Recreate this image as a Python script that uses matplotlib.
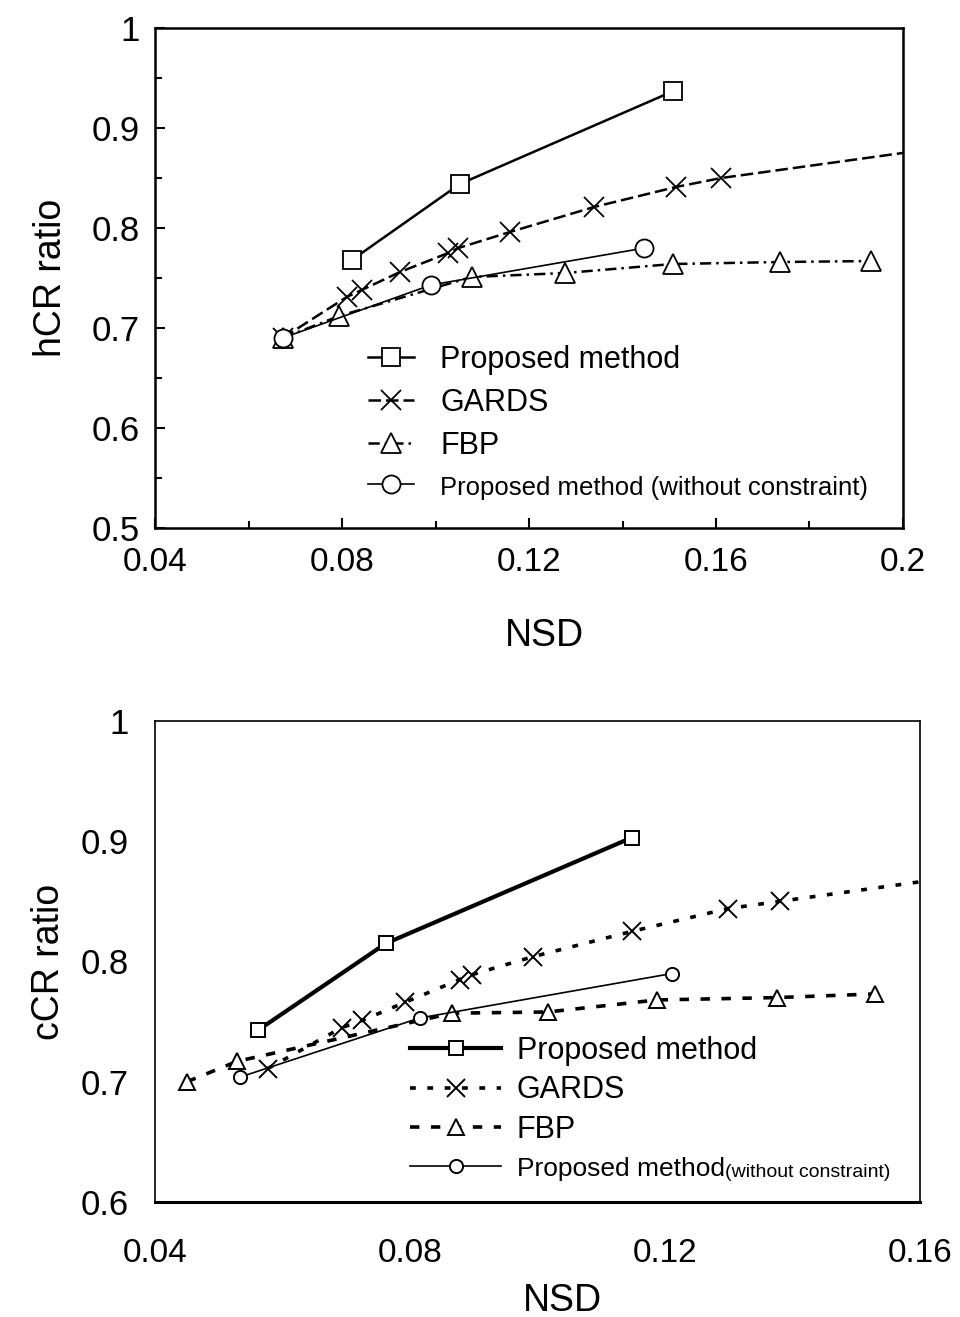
import matplotlib
matplotlib.use("Agg")
import matplotlib.pyplot as plt
from matplotlib.ticker import MultipleLocator, FuncFormatter

plt.rcParams["font.family"] = ["Liberation Sans", "DejaVu Sans"]

# ---- hCR ratio vs NSD ----
top_prop_x = [0.0821, 0.1052, 0.1509]
top_prop_y = [0.768, 0.844, 0.937]
top_gards_x = [0.0673, 0.0810, 0.0842, 0.0924, 0.1027, 0.1049, 0.1159, 0.1339, 0.1514, 0.1611, 0.22]
top_gards_y = [0.690, 0.731, 0.738, 0.756, 0.775, 0.780, 0.796, 0.821, 0.841, 0.850, 0.888]
top_fbp_x = [0.0673, 0.0794, 0.1077, 0.1277, 0.1507, 0.1737, 0.1931]
top_fbp_y = [0.690, 0.712, 0.751, 0.755, 0.764, 0.766, 0.767]
top_noc_x = [0.0673, 0.0990, 0.1447]
top_noc_y = [0.690, 0.743, 0.780]

# ---- cCR ratio vs NSD ----
bot_prop_x = [0.0562, 0.0762, 0.1148]
bot_prop_y = [0.743, 0.815, 0.903]
bot_gards_x = [0.0577, 0.0693, 0.0725, 0.0792, 0.0878, 0.0897, 0.0993, 0.1148, 0.1299, 0.1380, 0.18]
bot_gards_y = [0.711, 0.745, 0.751, 0.766, 0.785, 0.789, 0.804, 0.825, 0.844, 0.850, 0.881]
bot_fbp_x = [0.0450, 0.0529, 0.0866, 0.1016, 0.1187, 0.1376, 0.1529]
bot_fbp_y = [0.700, 0.717, 0.757, 0.758, 0.768, 0.770, 0.773]
bot_noc_x = [0.0534, 0.0815, 0.1211]
bot_noc_y = [0.704, 0.753, 0.790]

labels = ["Proposed method", "GARDS", "FBP", "Proposed method (without constraint)"]

fmt = FuncFormatter(lambda v, p: "%g" % round(v, 4))

fig = plt.figure(figsize=(9.6, 13.17), dpi=100)

# ================= upper panel =================
ax1 = fig.add_axes([0.1615, 0.5991, 0.9406 - 0.1615, 0.9787 - 0.5991])
mk = dict(markerfacecolor="white", markeredgecolor="black", markeredgewidth=1.3, color="black")
ax1.plot(top_prop_x, top_prop_y, marker="s", markersize=13, linewidth=1.8, linestyle="-", label=labels[0], **mk)
ax1.plot(top_gards_x, top_gards_y, marker="x", markersize=15, linewidth=1.8, dashes=(5, 2), label=labels[1], **mk)
ax1.plot(top_fbp_x, top_fbp_y, marker="^", markersize=14, linewidth=1.8, dashes=(4.5, 2, 1, 2), label=labels[2], **mk)
ax1.plot(top_noc_x, top_noc_y, marker="o", markersize=13, linewidth=1.2, linestyle="-", label=labels[3], **mk)

ax1.set_xlim(0.04, 0.2)
ax1.set_ylim(0.5, 1.0)
ax1.xaxis.set_major_locator(MultipleLocator(0.04))
ax1.xaxis.set_minor_locator(MultipleLocator(0.02))
ax1.yaxis.set_major_locator(MultipleLocator(0.1))
ax1.yaxis.set_minor_locator(MultipleLocator(0.05))
ax1.xaxis.set_major_formatter(fmt)
ax1.yaxis.set_major_formatter(fmt)
ax1.tick_params(which="both", direction="in", width=1.5, labelsize=24)
ax1.tick_params(axis="y", labelsize=25)
ax1.tick_params(which="major", length=7)
ax1.tick_params(which="minor", length=5)
ax1.tick_params(axis="x", pad=14)
ax1.tick_params(axis="y", pad=11)
for s in ax1.spines.values():
    s.set_linewidth(1.8)
ax1.set_xlabel("NSD", fontsize=27)
ax1.xaxis.set_label_coords(0.521, -0.18)
ax1.set_ylabel("hCR ratio", fontsize=27, labelpad=16)

leg1 = ax1.legend(loc="upper left", bbox_to_anchor=(0.285, 0.366), frameon=False, fontsize=22,
                  handlelength=1.5, handletextpad=0.86, labelspacing=0.42, borderpad=0, borderaxespad=0)
leg1.get_texts()[3].set_fontsize(18.5)

# ================= lower panel =================
ax2 = fig.add_axes([0.1615, 0.0873, 0.9583 - 0.1615, 0.4526 - 0.0873])
mk2 = dict(markerfacecolor="white", markeredgecolor="black", markeredgewidth=1.4, color="black")
ax2.plot(bot_prop_x, bot_prop_y, marker="s", markersize=10.5, linewidth=3.0, linestyle="-", label=labels[0], **mk2)
ax2.plot(bot_gards_x, bot_gards_y, marker="x", markersize=13, linewidth=2.6, dashes=(1.6, 3.2), label=labels[1], **mk2)
ax2.plot(bot_fbp_x, bot_fbp_y, marker="^", markersize=11, linewidth=2.6, dashes=(2.6, 3.2), label=labels[2], **mk2)
ax2.plot(bot_noc_x, bot_noc_y, marker="o", markersize=9.5, linewidth=1.2, linestyle="-", label="Proposed method", **mk2)

ax2.set_xlim(0.04, 0.16)
ax2.set_ylim(0.6, 1.0)
ax2.xaxis.set_major_locator(MultipleLocator(0.04))
ax2.yaxis.set_major_locator(MultipleLocator(0.1))
ax2.xaxis.set_major_formatter(fmt)
ax2.yaxis.set_major_formatter(fmt)
ax2.tick_params(which="both", length=0, labelsize=24)
ax2.tick_params(axis="y", labelsize=25)
ax2.tick_params(axis="x", pad=26)
ax2.tick_params(axis="y", pad=19)
for name, s in ax2.spines.items():
    s.set_linewidth(1.2)
ax2.spines["bottom"].set_linewidth(2.2)
ax2.set_xlabel("NSD", fontsize=27)
ax2.xaxis.set_label_coords(0.533, -0.168)
ax2.set_ylabel("cCR ratio", fontsize=27, labelpad=10)

leg2 = ax2.legend(loc="upper left", bbox_to_anchor=(0.333, 0.346), frameon=False, fontsize=22,
                  handlelength=3.0, handletextpad=0.5, labelspacing=0.32, borderpad=0, borderaxespad=0)
last = leg2.get_texts()[3]
last.set_fontsize(19)
ax2.annotate("(without constraint)", xy=(1.0, 0.0), xycoords=last, fontsize=14,
             ha="left", va="bottom", zorder=10)

fig.savefig("out.png", dpi=100)
